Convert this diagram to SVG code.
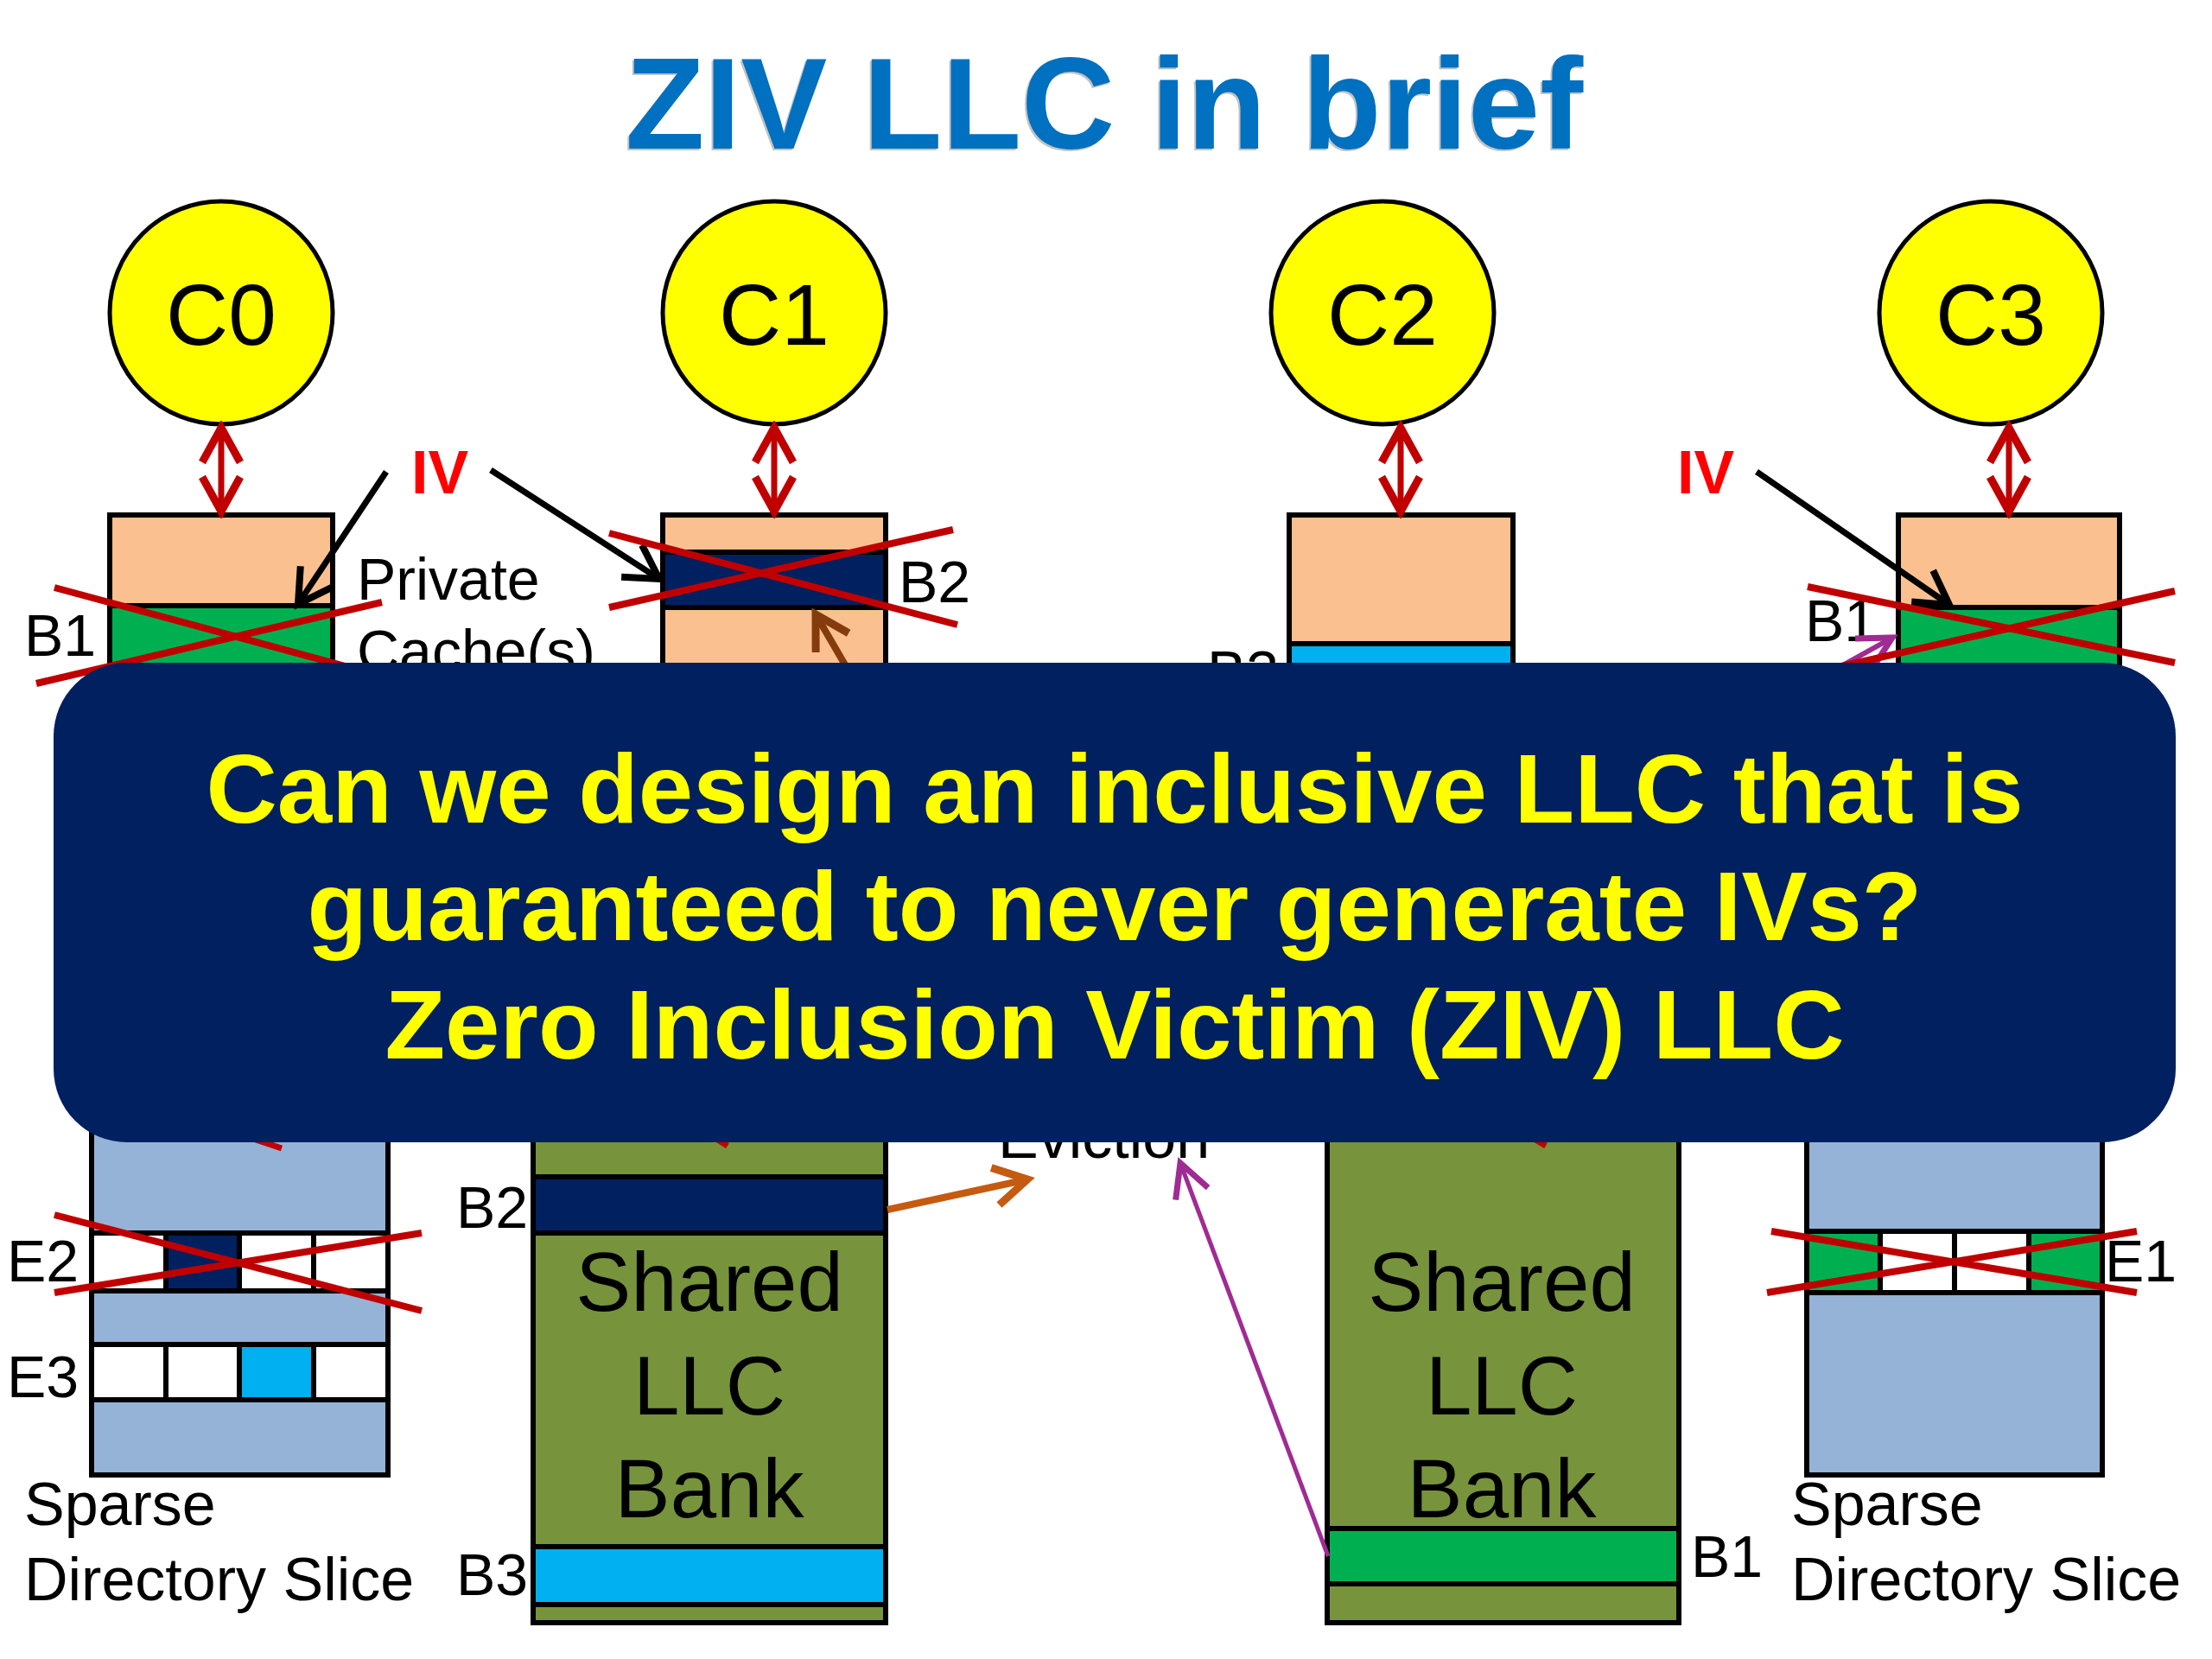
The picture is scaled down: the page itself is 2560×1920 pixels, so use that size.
<svg xmlns="http://www.w3.org/2000/svg" width="2560" height="1920" viewBox="0 0 2560 1920">
<style>
text{font-family:"Liberation Sans",Arial,sans-serif}
.lbl{font-size:68px;fill:#000}
.core{fill:#FFFF00;stroke:#000;stroke-width:5}
.coret{font-size:100px;fill:#000;text-anchor:middle}
.box{stroke:#000;stroke-width:6}
.peach{fill:#FAC090}
.green{fill:#00B050}
.navy{fill:#002060}
.cyan{fill:#00B0F0}
.dir{fill:#95B3D7}
.olive{fill:#77933C}
.white{fill:#FFFFFF}
.x{stroke:#C00000;stroke-width:8;fill:none}
.iv{font-size:70px;font-weight:bold;fill:#FF0000}
.bank{font-size:96px;fill:#000;text-anchor:middle}
.dbl{stroke:#C00000;stroke-width:7;fill:none}
.ban{font-size:114px;font-weight:bold;fill:#FFFF00;text-anchor:middle}
</style>
<defs>
<marker id="hRed" viewBox="0 0 60 60" refX="52" refY="30" markerWidth="60" markerHeight="60" orient="auto-start-reverse" markerUnits="userSpaceOnUse">
<path d="M12,8 L52,30 L12,52" fill="none" stroke="#C00000" stroke-width="9"/>
</marker>
<marker id="hBlack" viewBox="0 0 60 60" refX="50" refY="30" markerWidth="60" markerHeight="60" orient="auto" markerUnits="userSpaceOnUse">
<path d="M12,8 L50,30 L12,52" fill="none" stroke="#000" stroke-width="8"/>
</marker>
<marker id="hBrown" viewBox="0 0 60 60" refX="50" refY="30" markerWidth="60" markerHeight="60" orient="auto" markerUnits="userSpaceOnUse">
<path d="M12,8 L50,30 L12,52" fill="none" stroke="#C55A11" stroke-width="9"/>
</marker>
<marker id="hBrownD" viewBox="0 0 60 60" refX="50" refY="30" markerWidth="60" markerHeight="60" orient="auto" markerUnits="userSpaceOnUse">
<path d="M12,8 L50,30 L12,52" fill="none" stroke="#843C0C" stroke-width="9"/>
</marker>
<marker id="hPurple" viewBox="0 0 60 60" refX="50" refY="30" markerWidth="60" markerHeight="60" orient="auto" markerUnits="userSpaceOnUse">
<path d="M12,10 L50,30 L12,50" fill="none" stroke="#A02B93" stroke-width="7"/>
</marker>
</defs>
<rect width="2560" height="1920" fill="#FFFFFF"/>

<g id="title">
<text x="1276" y="174" font-size="150" font-weight="bold" fill="#888" opacity="0.5" text-anchor="middle">ZIV LLC in brief</text>
<text x="1278" y="172" font-size="150" font-weight="bold" fill="#0070C0" text-anchor="middle">ZIV LLC in brief</text>
</g>

<g id="core-c0"><circle cx="256" cy="362" r="129" class="core"/><text x="256" y="399" class="coret">C0</text></g>
<g id="core-c1"><circle cx="896" cy="362" r="129" class="core"/><text x="896" y="399" class="coret">C1</text></g>
<g id="core-c2"><circle cx="1600" cy="362" r="129" class="core"/><text x="1600" y="399" class="coret">C2</text></g>
<g id="core-c3"><circle cx="2304" cy="362" r="129" class="core"/><text x="2304" y="399" class="coret">C3</text></g>

<g id="cache-c0">
<rect x="127" y="596" width="258" height="220" class="box peach"/>
<rect x="127" y="701" width="258" height="115" class="box green"/>
<text x="28" y="759" class="lbl">B1</text>
<text x="413" y="694" class="lbl">Private</text>
<text x="413" y="777" class="lbl">Cache(s)</text>
</g>
<g id="cache-c1">
<rect x="767" y="596" width="258" height="220" class="box peach"/>
<rect x="767" y="639" width="258" height="64" class="box navy"/>
<text x="1040" y="697" class="lbl">B2</text>
</g>
<g id="cache-c2">
<rect x="1492" y="596" width="259" height="220" class="box peach"/>
<rect x="1492" y="745" width="259" height="71" class="box cyan"/>
<text x="1397" y="801" class="lbl">B3</text>
</g>
<g id="cache-c3">
<rect x="2197" y="596" width="256" height="220" class="box peach"/>
<rect x="2197" y="703" width="256" height="113" class="box green"/>
<text x="2089" y="742" class="lbl">B1</text>
</g>

<g id="dir-left">
<rect x="106" y="1290" width="343" height="417" class="box dir"/>
<rect x="106" y="1427" width="86" height="67" class="box white"/>
<rect x="192" y="1427" width="85" height="67" class="box navy"/>
<rect x="277" y="1427" width="86" height="67" class="box white"/>
<rect x="363" y="1427" width="86" height="67" class="box white"/>
<rect x="106" y="1556" width="86" height="64" class="box white"/>
<rect x="192" y="1556" width="85" height="64" class="box white"/>
<rect x="277" y="1556" width="86" height="64" class="box cyan"/>
<rect x="363" y="1556" width="86" height="64" class="box white"/>
<text x="8" y="1483" class="lbl">E2</text>
<text x="8" y="1617" class="lbl">E3</text>
<text x="28" y="1765" font-size="70">Sparse</text>
<text x="28" y="1852" font-size="70">Directory Slice</text>
</g>

<g id="llc-left">
<rect x="617" y="1290" width="408" height="588" class="box olive"/>
<rect x="617" y="1362" width="408" height="65" class="box navy"/>
<rect x="617" y="1790" width="408" height="67" class="box cyan"/>
<text x="821" y="1517" class="bank">Shared</text>
<text x="821" y="1637" class="bank">LLC</text>
<text x="821" y="1756" class="bank">Bank</text>
<text x="528" y="1421" class="lbl">B2</text>
<text x="528" y="1846" class="lbl">B3</text>
</g>

<g id="llc-right">
<rect x="1536" y="1290" width="407" height="588" class="box olive"/>
<rect x="1536" y="1769" width="407" height="64" class="box green"/>
<text x="1738" y="1517" class="bank">Shared</text>
<text x="1738" y="1637" class="bank">LLC</text>
<text x="1738" y="1756" class="bank">Bank</text>
<text x="1957" y="1825" class="lbl">B1</text>
</g>

<g id="dir-right">
<rect x="2091" y="1290" width="342" height="417" class="box dir"/>
<rect x="2091" y="1425" width="85" height="71" class="box green"/>
<rect x="2176" y="1425" width="86" height="71" class="box white"/>
<rect x="2262" y="1425" width="86" height="71" class="box white"/>
<rect x="2348" y="1425" width="85" height="71" class="box green"/>
<text x="2436" y="1483" class="lbl">E1</text>
<text x="2073" y="1765" font-size="70">Sparse</text>
<text x="2073" y="1852" font-size="70">Directory Slice</text>
</g>

<g id="eviction-label">
<text x="1155" y="1340" font-size="70">Eviction</text>
</g>

<g id="iv-labels">
<text x="476" y="571" class="iv">IV</text>
<text x="1941" y="571" class="iv">IV</text>
</g>

<g id="connectors">
<line x1="256" y1="495" x2="256" y2="592" class="dbl" marker-start="url(#hRed)" marker-end="url(#hRed)"/>
<line x1="896" y1="495" x2="896" y2="592" class="dbl" marker-start="url(#hRed)" marker-end="url(#hRed)"/>
<line x1="1621" y1="495" x2="1621" y2="592" class="dbl" marker-start="url(#hRed)" marker-end="url(#hRed)"/>
<line x1="2325" y1="495" x2="2325" y2="592" class="dbl" marker-start="url(#hRed)" marker-end="url(#hRed)"/>
<line x1="447" y1="546" x2="345" y2="699" stroke="#000" stroke-width="7" marker-end="url(#hBlack)"/>
<line x1="568" y1="544" x2="763" y2="670" stroke="#000" stroke-width="7" marker-end="url(#hBlack)"/>
<line x1="2033" y1="546" x2="2256" y2="700" stroke="#000" stroke-width="7" marker-end="url(#hBlack)"/>
<line x1="990" y1="790" x2="944" y2="711" stroke="#843C0C" stroke-width="8" marker-end="url(#hBrownD)"/>
<line x1="2070" y1="805" x2="2190" y2="738" stroke="#A02B93" stroke-width="6" marker-end="url(#hPurple)"/>
<line x1="1027" y1="1400" x2="1189" y2="1365" stroke="#C55A11" stroke-width="8" marker-end="url(#hBrown)"/>
<line x1="1537" y1="1801" x2="1366" y2="1346" stroke="#A02B93" stroke-width="5" marker-end="url(#hPurple)"/>
<line x1="240" y1="1300" x2="326" y2="1329" stroke="#C00000" stroke-width="7"/>
<line x1="800" y1="1300" x2="842" y2="1326" stroke="#C00000" stroke-width="7"/>
<line x1="1745" y1="1300" x2="1789" y2="1326" stroke="#C00000" stroke-width="7"/>
</g>

<g id="crosses">
<line x1="63" y1="680" x2="440" y2="782" class="x"/>
<line x1="42" y1="791" x2="442" y2="697" class="x"/>
<line x1="705" y1="617" x2="1108" y2="723" class="x"/>
<line x1="705" y1="703" x2="1103" y2="613" class="x"/>
<line x1="2092" y1="679" x2="2517" y2="767" class="x"/>
<line x1="2100" y1="778" x2="2517" y2="684" class="x"/>
<line x1="63" y1="1406" x2="488" y2="1517" class="x"/>
<line x1="63" y1="1496" x2="488" y2="1427" class="x"/>
<line x1="2050" y1="1425" x2="2473" y2="1496" class="x"/>
<line x1="2045" y1="1496" x2="2473" y2="1425" class="x"/>
</g>

<g id="banner">
<rect x="62" y="767" width="2456" height="555" rx="85" ry="85" fill="#002060"/>
<text x="1290" y="952" class="ban">Can we design an inclusive LLC that is</text>
<text x="1290" y="1088" class="ban">guaranteed to never generate IVs?</text>
<text x="1290" y="1225" class="ban">Zero Inclusion Victim (ZIV) LLC</text>
</g>
</svg>
